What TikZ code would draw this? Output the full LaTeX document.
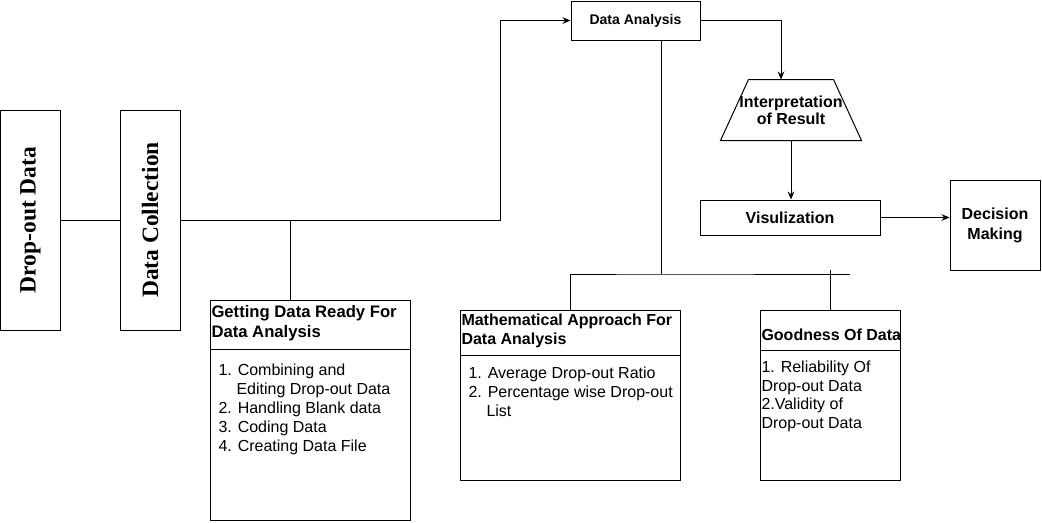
\documentclass[tikz,border=0pt]{standalone}
\usepackage{fontspec}
\setmainfont{Liberation Sans}
\newfontfamily\tnrfont{Liberation Serif}
\usetikzlibrary{arrows.meta}
\begin{document}
\begin{tikzpicture}[x=0.75pt,y=-0.75pt,line width=0.75pt,
  box/.style={draw=black, inner sep=0pt, align=center},
  vlabel/.style={font=\tnrfont\bfseries\fontsize{17.6pt}{20pt}\selectfont},
  hdr/.style={font=\bfseries\fontsize{12pt}{15pt}\selectfont},
  txt/.style={inner sep=0pt, anchor=base west, align=left},
  arr/.style={-{Stealth[length=6pt,width=5pt]}}]
\useasboundingbox (0,0) rectangle (1042,522);

% left column
\node[box, minimum width=45pt, minimum height=165pt, vlabel] (dod) at (30.5,220) {\rotatebox{90}{Drop-out Data}};
\node[box, minimum width=45pt, minimum height=165pt, vlabel] (dc) at (150,220) {\rotatebox{90}{Data Collection}};

% top flow
\node[box, minimum width=96.75pt, minimum height=29.25pt, font=\bfseries\fontsize{10.5pt}{12pt}\selectfont] (da) at (635.5,20.5) {Data Analysis};
\node[inner sep=0pt, minimum width=105pt, minimum height=45pt, align=center, font=\bfseries\fontsize{12pt}{12.75pt}\selectfont] (ir) at (791,110) {Interpretation\\of Result};
\draw (ir.south west) -- (ir.south east) -- ([xshift=-21pt]ir.north east) -- ([xshift=21pt]ir.north west) -- cycle;
\node[box, minimum width=135pt, minimum height=26.25pt, hdr] (vis) at (790,217.5) {Visulization};
\node[box, minimum width=67.5pt, minimum height=67.5pt, hdr] (dm) at (995,225) {Decision\\Making};

% lower boxes
\node[box, minimum width=150pt, minimum height=165pt] (gr) at (310,410) {};
\draw (gr.west |- 0,349) -- (gr.east |- 0,349);
\node[txt, font=\bfseries\fontsize{12.5pt}{15pt}\selectfont] (grt) at (211,337) {Getting Data Ready For\\Data Analysis};
\node[txt, font=\fontsize{12pt}{14.25pt}\selectfont] (grl) at (218,451) {1. Combining and\\\hspace*{13.5pt}Editing Drop-out Data\\2. Handling Blank data\\3. Coding Data\\4. Creating Data File};

\node[box, minimum width=165pt, minimum height=127.5pt] (ma) at (570,395) {};
\draw (ma.west |- 0,355) -- (ma.east |- 0,355);
\node[txt, font=\bfseries\fontsize{12pt}{14.25pt}\selectfont] (mat) at (461,344) {Mathematical Approach For\\Data Analysis};
\node[txt, font=\fontsize{12pt}{14.25pt}\selectfont] (mal) at (468,416) {1. Average Drop-out Ratio\\2. Percentage wise Drop-out\\\hspace*{13.5pt}List};

\node[box, minimum width=105pt, minimum height=127.5pt] (gd) at (830,395) {};
\draw (gd.west |- 0,350) -- (gd.east |- 0,350);
\node[txt, font=\bfseries\fontsize{12pt}{14.25pt}\selectfont] (gdt) at (761,340) {Goodness Of Data};
\node[txt, font=\fontsize{12pt}{13.9pt}\selectfont] (gdl) at (761,428.5) {1. Reliability Of\\Drop-out Data\\2.Validity of\\Drop-out Data};

% junctions
\coordinate (j1) at (500,220);
\coordinate (j2) at (290,220);
\coordinate (j3) at (661,274);
\coordinate (j4) at (850,274);
\coordinate (j5) at (830,270);

% connectors
\draw (dod.east) -- (dc.west);
\draw[arr] (dc.east) -- (j1) |- (da.west);
\draw (j2) -- (j2 |- gr.north);
\draw[arr] (da.east) -| ([xshift=-7.5pt]ir.north);
\draw[arr] (ir.south) -- (ir.south |- vis.north);
\draw[arr] (vis.east) -- (vis.east -| dm.west);
\draw (da.south -| j3) -- (j3);
\draw (ma.north) |- (j3) -- (j4);
\draw (gd.north) -- (gd.north |- j5);
\end{tikzpicture}
\end{document}
